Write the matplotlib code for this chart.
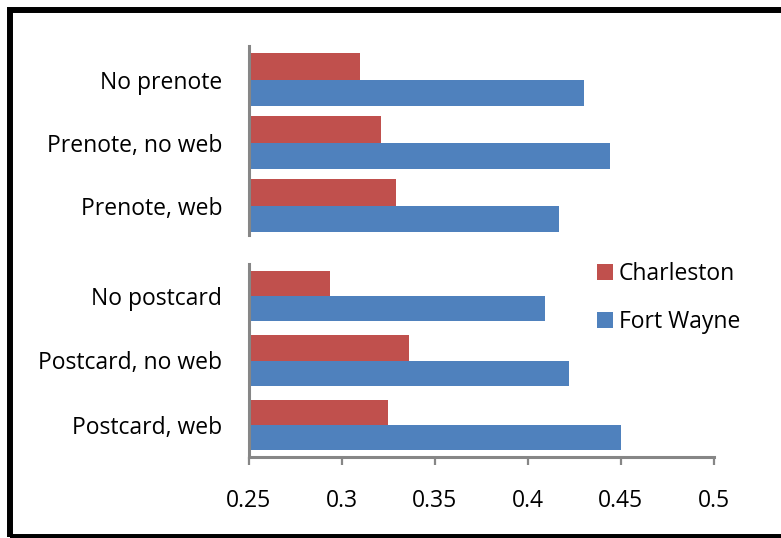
import matplotlib
matplotlib.use("Agg")
import matplotlib.pyplot as plt
from matplotlib.patches import Rectangle, Patch

# Data
top_categories = ["No prenote", "Prenote, no web", "Prenote, web"]
top_charleston = [0.310, 0.321, 0.329]
top_fortwayne = [0.430, 0.444, 0.417]

bottom_categories = ["No postcard", "Postcard, no web", "Postcard, web"]
bottom_charleston = [0.294, 0.336, 0.325]
bottom_fortwayne = [0.409, 0.422, 0.450]

series_names = ["Charleston", "Fort Wayne"]
xticks = [0.25, 0.3, 0.35, 0.4, 0.45, 0.5]
xtick_labels = ["0.25", "0.3", "0.35", "0.4", "0.45", "0.5"]

RED = "#C0504D"
BLUE = "#4F81BD"
GRAY = "#868686"
FONT = "Open Sans"
FS = 16.5

plt.rcParams['font.family'] = [FONT, 'DejaVu Sans']

W, H = 781, 538
fig = plt.figure(figsize=(W / 100, H / 100), dpi=100)

def px_axes(left, right, top, bottom):
    return fig.add_axes([left / W, 1 - bottom / H, (right - left) / W, (bottom - top) / H])

ax1 = px_axes(248.5, 714, 46, 235)
ax2 = px_axes(248.5, 714, 264, 457)

def draw(ax, cats, c_vals, f_vals, h, shift):
    ys = list(range(len(cats)))
    ax.barh([y - h / 2 for y in ys], [v - 0.25 for v in c_vals], left=0.25, height=h, color=RED)
    ax.barh([y + h / 2 for y in ys], [v - 0.25 for v in f_vals], left=0.25, height=h, color=BLUE)
    ax.set_ylim(len(cats) - 0.5 + shift, -0.5 + shift)
    ax.set_xlim(0.25, 0.5)
    ax.set_yticks(ys)
    ax.set_yticklabels(cats, fontsize=FS)
    ax.tick_params(axis='y', length=0, pad=19)
    for s in ("top", "right"):
        ax.spines[s].set_visible(False)
    ax.spines["left"].set_color(GRAY)
    ax.spines["left"].set_linewidth(2.2)

draw(ax1, top_categories, top_charleston, top_fortwayne, 0.42, -0.035)
draw(ax2, bottom_categories, bottom_charleston, bottom_fortwayne, 0.39, 0.0)

ax1.spines["bottom"].set_visible(False)
ax1.set_xticks([])

ax2.spines["bottom"].set_color(GRAY)
ax2.spines["bottom"].set_linewidth(2.2)
ax2.set_xticks(xticks)
ax2.set_xticklabels(xtick_labels, fontsize=FS)
ax2.tick_params(axis='x', length=6, width=1.6, color=GRAY, pad=17, direction='out')

handles = [Patch(facecolor=RED, edgecolor='none'), Patch(facecolor=BLUE, edgecolor='none')]
fig.legend(handles, series_names, loc='center left', bbox_to_anchor=(597 / W, 1 - 298 / H),
           frameon=False, fontsize=FS, handlelength=0.68, handleheight=0.68,
           handletextpad=0.28, labelspacing=1.05, borderpad=0, borderaxespad=0)

frame = Rectangle((10 / W, 1.5 / H), 1.1, 1 - 11.5 / H, transform=fig.transFigure,
                  fill=False, edgecolor='black', linewidth=4.3, clip_on=False)
fig.patches.append(frame)

fig.savefig("out.png", dpi=100)
